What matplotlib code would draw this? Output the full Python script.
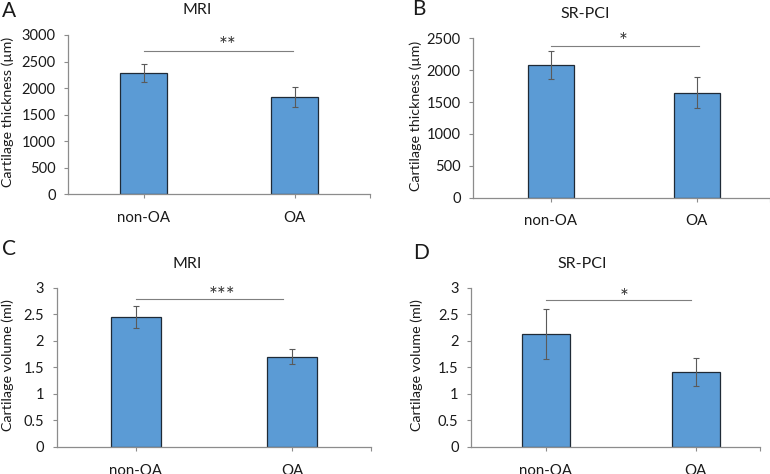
import matplotlib
matplotlib.use("Agg")
import matplotlib.pyplot as plt
import numpy as np

plt.rcParams['font.family'] = ['Lato', 'DejaVu Sans']

categories = ["non-OA", "OA"]

# Panel A: MRI thickness (µm)
a_vals = [2280, 1830]
a_err = [165, 185]
# Panel B: SR-PCI thickness (µm)
b_vals = [2080, 1647]
b_err = [220, 243]
# Panel C: MRI volume (ml)
c_vals = [2.45, 1.70]
c_err = [0.20, 0.145]
# Panel D: SR-PCI volume (ml)
d_vals = [2.12, 1.41]
d_err = [0.47, 0.27]

a_ticks = [0, 500, 1000, 1500, 2000, 2500, 3000]
b_ticks = [0, 500, 1000, 1500, 2000, 2500]
c_ticks = [0, 0.5, 1, 1.5, 2, 2.5, 3]
d_ticks = [0, 0.5, 1, 1.5, 2, 2.5, 3]

# significance annotations: (x start, x end, y level, star x, star y, stars)
a_sig = (0.0, 0.99, 2704, 0.556, 2870, "**")
b_sig = (0.0, 1.02, 2379, 0.50, 2505, "*")
c_sig = (0.0, 0.943, 2.787, 0.554, 2.92, "***")
d_sig = (0.0, 0.97, 2.775, 0.523, 2.887, "*")

W, H = 770, 474
fig = plt.figure(figsize=(W / 100, H / 100), dpi=100)

BAR = "#5B9BD5"
EDGE = "#1f2a36"
SPINE = "#8c8c8c"
ERR = "#5a5a5a"
TXT = "#1a1a1a"


def fr(x0, x1, ytop, ybot):
    return [x0 / W, 1 - ybot / H, (x1 - x0) / W, (ybot - ytop) / H]


panels = [
    dict(rect=fr(68, 370, 35, 194.3), vals=a_vals, err=a_err, ticks=a_ticks,
         ylim=(0, 3000), xlim=(-0.5, 1.5), sig=a_sig, width=0.31,
         title="MRI", tpos=(197, 10), letter="A", lpos=(2, 11),
         ylabel="Cartilage thickness (\u00b5m)", ypos=(8, 112), fmt="{:g}"),
    dict(rect=fr(473.3, 769.5, 38.3, 197.7), vals=b_vals, err=b_err, ticks=b_ticks,
         ylim=(0, 2500), xlim=(-0.53, 1.5), sig=b_sig, width=0.315,
         title="SR-PCI", tpos=(585, 14), letter="B", lpos=(412, 9),
         ylabel="Cartilage thickness (\u00b5m)", ypos=(416, 116), fmt="{:g}"),
    dict(rect=fr(56.7, 370.7, 287.7, 447), vals=c_vals, err=c_err, ticks=c_ticks,
         ylim=(0, 3), xlim=(-0.504, 1.5), sig=c_sig, width=0.32,
         title="MRI", tpos=(187, 264), letter="C", lpos=(2, 249),
         ylabel="Cartilage volume (ml)", ypos=(8, 365), fmt="{:g}"),
    dict(rect=fr(471, 760, 287.7, 447), vals=d_vals, err=d_err, ticks=d_ticks,
         ylim=(0, 3), xlim=(-0.5, 1.43), sig=d_sig, width=0.32,
         title="SR-PCI", tpos=(582, 264), letter="D", lpos=(413, 253),
         ylabel="Cartilage volume (ml)", ypos=(417, 365), fmt="{:g}"),
]

for p in panels:
    ax = fig.add_axes(p["rect"])
    x = np.arange(len(categories))
    ax.bar(x, p["vals"], width=p["width"], color=BAR, edgecolor=EDGE,
           linewidth=0.9, zorder=2)
    ax.errorbar(x, p["vals"], yerr=p["err"], fmt="none", ecolor=ERR,
                elinewidth=0.8, capsize=2, capthick=0.8, zorder=3)
    ax.set_xlim(*p["xlim"])
    ax.set_ylim(*p["ylim"])
    ax.set_yticks(p["ticks"])
    ax.set_yticklabels([p["fmt"].format(t) for t in p["ticks"]])
    ax.set_xticks(x)
    ax.set_xticklabels(categories)
    ax.set_xticks([p["xlim"][1]], minor=True)
    for s in ["top", "right"]:
        ax.spines[s].set_visible(False)
    for s in ["left", "bottom"]:
        ax.spines[s].set_color(SPINE)
        ax.spines[s].set_linewidth(0.9)
    ax.tick_params(axis="y", length=3, width=0.8, color=SPINE, pad=6,
                   labelsize=10.5, labelcolor=TXT)
    ax.tick_params(axis="x", which="both", length=3, width=0.8, color=SPINE,
                   pad=9, labelsize=10.8, labelcolor=TXT)
    x0, x1, yl, sx, sy, st = p["sig"]
    ax.plot([x0, x1], [yl, yl], color="#7f7f7f", linewidth=0.8,
            clip_on=False, zorder=4)
    ax.annotate(st, (sx, sy), xytext=(0, -3), textcoords="offset points",
                ha="center", va="center", fontsize=15,
                color="#333333", annotation_clip=False)
    fig.text(p["tpos"][0] / W, 1 - p["tpos"][1] / H, p["title"],
             ha="center", va="center", fontsize=11.5, color=TXT)
    fig.text(p["lpos"][0] / W, 1 - p["lpos"][1] / H, p["letter"],
             ha="left", va="center", fontsize=15, color=TXT)
    fig.text(p["ypos"][0] / W, 1 - p["ypos"][1] / H, p["ylabel"],
             ha="center", va="center", rotation=90, fontsize=10.3, color=TXT)

fig.savefig("out.png", dpi=100)
